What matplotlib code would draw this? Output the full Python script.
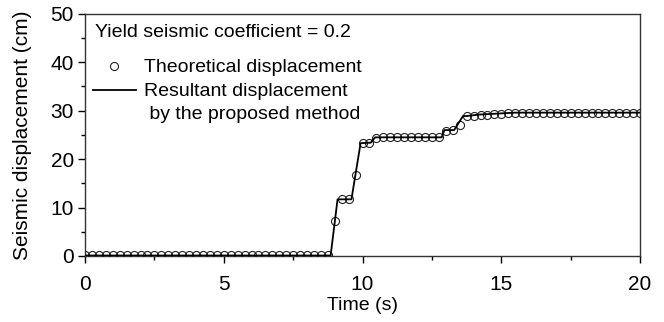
import matplotlib
matplotlib.use("Agg")
import matplotlib.pyplot as plt

plt.rcParams['font.family'] = ['Liberation Sans', 'DejaVu Sans']

# Theoretical displacement (circles), sampled every 0.25 s
theo_time = [0.0, 0.25, 0.5, 0.75, 1.0, 1.25, 1.5, 1.75, 2.0, 2.25, 2.5, 2.75,
             3.0, 3.25, 3.5, 3.75, 4.0, 4.25, 4.5, 4.75, 5.0, 5.25, 5.5, 5.75,
             6.0, 6.25, 6.5, 6.75, 7.0, 7.25, 7.5, 7.75, 8.0, 8.25, 8.5, 8.75,
             9.0, 9.25, 9.5, 9.75, 10.0, 10.25, 10.5, 10.75, 11.0, 11.25, 11.5, 11.75,
             12.0, 12.25, 12.5, 12.75, 13.0, 13.25, 13.5, 13.75, 14.0, 14.25, 14.5, 14.75,
             15.0, 15.25, 15.5, 15.75, 16.0, 16.25, 16.5, 16.75, 17.0, 17.25, 17.5, 17.75,
             18.0, 18.25, 18.5, 18.75, 19.0, 19.25, 19.5, 19.75, 20.0]
theo_disp = [0.3, 0.3, 0.3, 0.3, 0.3, 0.3, 0.3, 0.3, 0.3, 0.3, 0.3, 0.3,
             0.3, 0.3, 0.3, 0.3, 0.3, 0.3, 0.3, 0.3, 0.3, 0.3, 0.3, 0.3,
             0.3, 0.3, 0.3, 0.3, 0.3, 0.3, 0.3, 0.3, 0.3, 0.3, 0.3, 0.3,
             7.2, 11.7, 11.7, 16.7, 23.3, 23.4, 24.4, 24.5, 24.5, 24.5, 24.5, 24.5,
             24.5, 24.5, 24.5, 24.5, 25.9, 26.0, 27.1, 28.9, 28.9, 29.1, 29.2, 29.3,
             29.4, 29.5, 29.6, 29.6, 29.6, 29.6, 29.6, 29.6, 29.6, 29.6, 29.6, 29.6,
             29.6, 29.6, 29.6, 29.6, 29.6, 29.6, 29.6, 29.6, 29.6]

# Resultant displacement by the proposed method (line)
line_time = [0.0, 8.85, 9.1, 9.6, 9.93, 10.3, 10.45, 12.85, 12.95, 13.3, 13.62, 13.75, 14.2, 15.5, 20.0]
line_disp = [0.1, 0.1, 11.7, 11.7, 23.3, 23.4, 24.5, 24.5, 26.0, 26.0, 28.9, 28.9, 29.2, 29.6, 29.6]

x_ticks = [0, 5, 10, 15, 20]
y_ticks = [0, 10, 20, 30, 40, 50]

title_text = 'Yield seismic coefficient = 0.2'
label_theo = 'Theoretical displacement'
label_line = 'Resultant displacement'
label_line2 = ' by the proposed method'

FS = 14
TFS = 15

fig = plt.figure(figsize=(6.64, 3.22), dpi=100)
ax = fig.add_axes([0.128, 0.205, 0.836, 0.752])

ax.plot(theo_time, theo_disp, linestyle='none', marker='o', markersize=5.8,
        markerfacecolor='none', markeredgecolor='#222222', markeredgewidth=0.8,
        label=label_theo, zorder=3)
ax.plot(line_time, line_disp, color='black', linewidth=1.3,
        label=label_line, zorder=4)

ax.set_xlim(0, 20)
ax.set_ylim(0, 50)
ax.set_xticks(x_ticks)
ax.set_yticks(y_ticks)
ax.set_xticks([2.5, 7.5, 12.5, 17.5], minor=True)
ax.set_yticks([5, 15, 25, 35, 45], minor=True)
ax.tick_params(which='major', direction='out', length=5, width=1, labelsize=TFS)
ax.tick_params(axis='x', which='major', pad=9)
ax.tick_params(axis='y', which='major', pad=3)
ax.tick_params(which='minor', direction='out', length=3, width=1)
for s in ax.spines.values():
    s.set_linewidth(1.0)
    s.set_color('#333333')

ax.set_xlabel('Time (s)', fontsize=FS, labelpad=2)
ax.set_ylabel('Seismic displacement (cm)', fontsize=TFS, labelpad=13)

# legend title line
ax.text(0.018, 0.921, title_text, transform=ax.transAxes, fontsize=FS,
        ha='left', va='center')
leg = ax.legend(loc='upper left', bbox_to_anchor=(0.0144, 0.814), frameon=False,
                fontsize=FS, handlelength=2.2, handletextpad=0.4,
                labelspacing=0.32, borderaxespad=0.0, borderpad=0.0)
ax.text(0.106, 0.585, label_line2, transform=ax.transAxes, fontsize=FS,
        ha='left', va='center')

fig.savefig('out.png', dpi=100)
